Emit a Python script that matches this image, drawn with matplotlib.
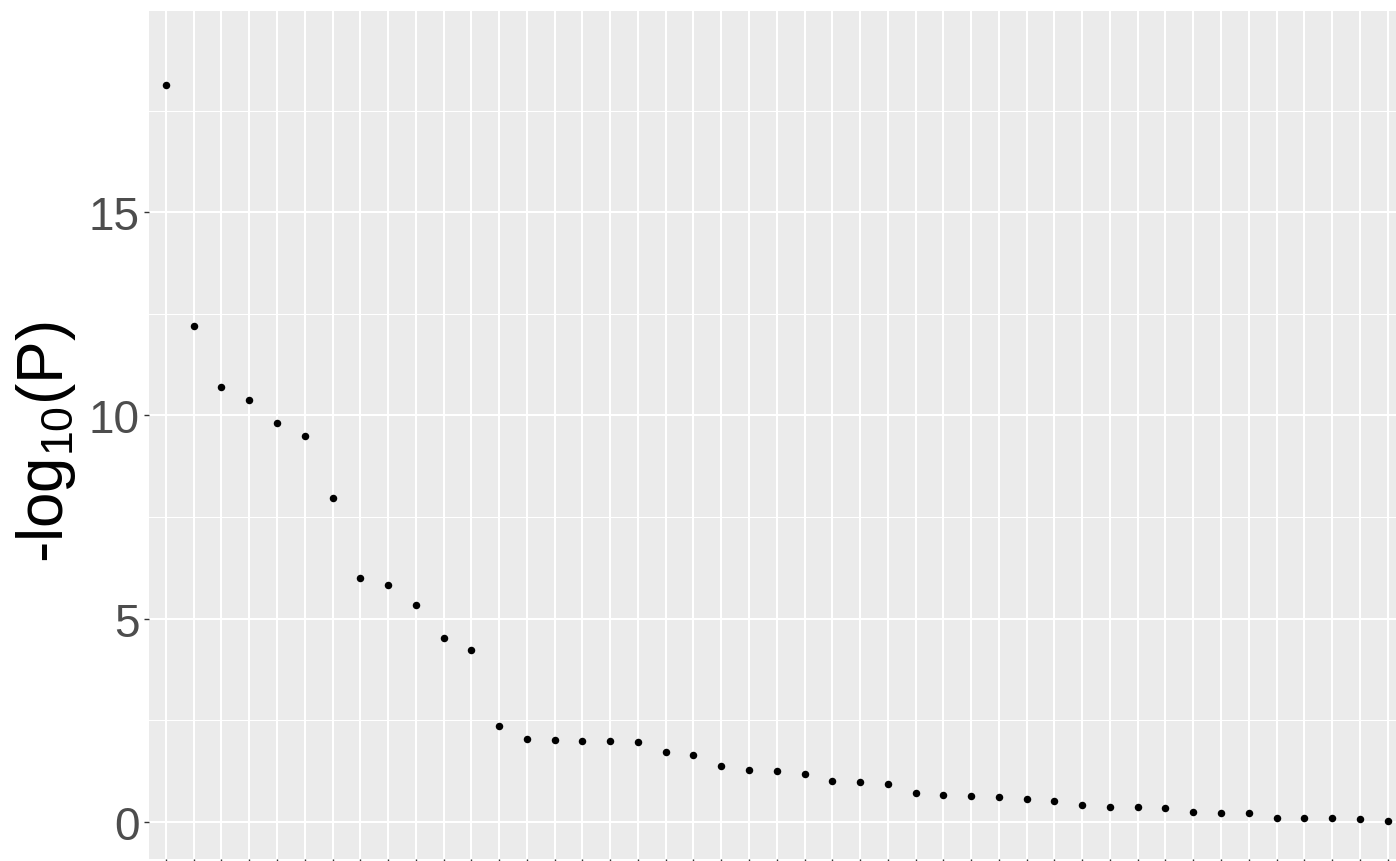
import matplotlib
matplotlib.use("Agg")
import matplotlib.pyplot as plt
from matplotlib.ticker import MultipleLocator

plt.rcParams['font.family'] = ['Liberation Sans', 'DejaVu Sans']
plt.rcParams['mathtext.fontset'] = 'custom'
plt.rcParams['mathtext.rm'] = 'Liberation Sans'
plt.rcParams['mathtext.it'] = 'Liberation Sans:italic'
plt.rcParams['mathtext.bf'] = 'Liberation Sans:bold'

# ranked terms (labels cut off in the reference)
terms = [f"term{i}" for i in range(1, 46)]
neg_log10_p = [18.13, 12.21, 10.71, 10.37, 9.82, 9.50, 7.97, 6.01, 5.83, 5.34,
               4.52, 4.22, 2.35, 2.05, 2.02, 2.00, 2.00, 1.97, 1.71, 1.65,
               1.37, 1.28, 1.25, 1.19, 1.02, 0.99, 0.93, 0.72, 0.67, 0.63,
               0.61, 0.57, 0.52, 0.43, 0.37, 0.37, 0.34, 0.25, 0.22, 0.21,
               0.10, 0.09, 0.09, 0.07, 0.03]
y_ticks = [0, 5, 10, 15]
y_label = r"-log$_{\mathrm{10}}$(P)"

W, H = 1396, 862
fig = plt.figure(figsize=(W / 100, H / 100), dpi=100)
fig.patch.set_facecolor("white")

left_px, top_px, bottom_px = 149.3, 12.0, 860.0
n = len(terms)
spacing = 27.764
xlim = (-0.6, n - 1 + 0.6)
width_px = (xlim[1] - xlim[0]) * spacing
ax = fig.add_axes([left_px / W, (H - bottom_px) / H, width_px / W, (bottom_px - top_px) / H])
ax.set_facecolor("#EBEBEB")

x = list(range(n))
ax.plot(x, neg_log10_p, linestyle="none", marker="o", markersize=5.4,
        color="black", markeredgewidth=0, zorder=3)

ax.set_xlim(*xlim)
ax.set_ylim(-0.91, 19.95)

ax.set_xticks(x)
ax.set_xticklabels([""] * n)
ax.set_yticks(y_ticks)
ax.set_yticklabels([str(v) for v in y_ticks])
ax.yaxis.set_minor_locator(MultipleLocator(2.5))

ax.grid(which="major", color="white", linewidth=1.5, zorder=0)
ax.grid(which="minor", axis="y", color="white", linewidth=0.75, zorder=0)
ax.set_axisbelow(True)

for s in ax.spines.values():
    s.set_visible(False)

ax.tick_params(axis="both", which="major", length=3.8, width=1.0, color="#333333",
               labelsize=33, labelcolor="#4D4D4D", pad=3)
ax.tick_params(axis="y", which="minor", length=0)

fig.text(46 / W, 1 - 442 / H, y_label, rotation=90, ha="center", va="center",
         fontsize=46, color="black")

fig.savefig("out.png", dpi=100)
